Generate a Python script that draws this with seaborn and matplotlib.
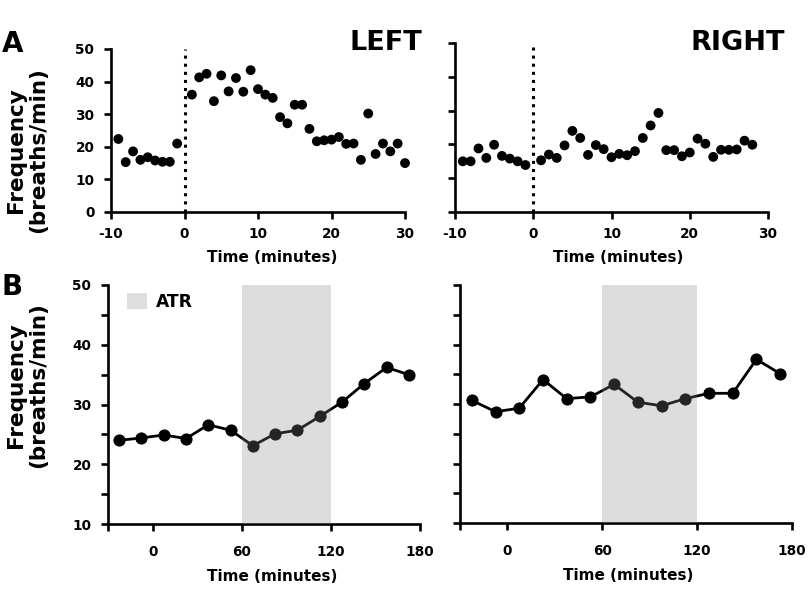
import numpy as np
import pandas as pd
import matplotlib.pyplot as plt
import seaborn as sns
from matplotlib.patches import Patch
from matplotlib.ticker import MultipleLocator

sns.set_style('ticks', {'axes.edgecolor': 'black', 'text.color': 'black',
                        'axes.labelcolor': 'black', 'xtick.color': 'black',
                        'ytick.color': 'black'})
plt.rcParams['font.family'] = ['DejaVu Sans']
plt.rcParams['font.weight'] = 'bold'
plt.rcParams['axes.unicode_minus'] = False

# Panel A - minute by minute frequency around the lesion (time 0)
a_time_left = [-9, -8, -7, -6, -5, -4, -3, -2, -1,
               1, 2, 3, 4, 5, 6, 7, 8, 9, 10, 11, 12, 13, 14, 15,
               16, 17, 18, 19, 20, 21, 22, 23, 24, 25, 26, 27, 28, 29, 30]
a_freq_left = [22.4, 15.3, 18.6, 16.0, 16.8, 15.8, 15.4, 15.4, 21.0,
               36.0, 41.3, 42.4, 34.0, 41.9, 37.0, 41.1, 36.9, 43.5, 37.7,
               36.0, 35.0, 29.1, 27.2, 32.9, 32.9, 25.5, 21.7, 22.0, 22.2,
               23.0, 20.9, 21.0, 16.0, 30.2, 17.8, 21.0, 18.6, 21.0, 15.0]
a_time_right = [-9, -8, -7, -6, -5, -4, -3, -2, -1,
                1, 2, 3, 4, 5, 6, 7, 8, 9, 10, 11, 12, 13, 14, 15,
                16, 17, 18, 19, 20, 21, 22, 23, 24, 25, 26, 27, 28]
a_freq_right = [15.0, 15.0, 18.8, 16.0, 19.9, 16.6, 15.8, 15.0, 13.9,
                15.3, 17.0, 16.0, 19.7, 24.0, 21.9, 16.9, 19.8, 18.6, 16.2,
                17.2, 16.8, 18.0, 21.9, 25.6, 29.3, 18.3, 18.3, 16.5, 17.6,
                21.7, 20.2, 16.3, 18.4, 18.4, 18.5, 21.1, 19.9]

# Panel B - 15 min averages, ATR window 60-120 min
b_time = [-22.5, -7.5, 7.5, 22.5, 37.5, 52.5, 67.5, 82.5, 97.5, 112.5,
          127.5, 142.5, 157.5, 172.5]
b_freq_left = [24.0, 24.4, 24.9, 24.3, 26.6, 25.7, 23.1, 25.1, 25.7, 28.0,
               30.4, 33.5, 36.2, 35.0]
b_freq_right = [30.6, 28.7, 29.3, 34.1, 30.9, 31.2, 33.3, 30.3, 29.7, 30.9,
                31.8, 31.8, 37.5, 35.1]
atr_window = (60, 120)

a_ticks = [-10, 0, 10, 20, 30]
b_ticks = [-30, 0, 60, 120, 180]
b_ticklabels = ['', '0', '60', '120', '180']

fig = plt.figure(figsize=(8.11, 6.08), dpi=100)
W, H = 811, 608


def px_axes(x0, x1, ytop, ybot):
    return fig.add_axes([x0 / W, 1 - ybot / H, (x1 - x0) / W, (ybot - ytop) / H])


ax_al = px_axes(111, 405, 49, 212)
ax_ar = px_axes(455, 768, 43, 212)
ax_bl = px_axes(108, 420, 285, 524)
ax_br = px_axes(460, 792, 285, 523)


def style(ax, xpad):
    for s in ['left', 'bottom']:
        ax.spines[s].set_linewidth(1.9)
        ax.spines[s].set_color('black')
    sns.despine(ax=ax)
    ax.tick_params(which='both', direction='out', length=5, width=1.9,
                   labelsize=9.8, colors='black')
    ax.tick_params(axis='y', which='both', pad=7)
    ax.tick_params(axis='x', pad=xpad)
    for lab in ax.get_xticklabels() + ax.get_yticklabels():
        lab.set_fontweight('bold')


# top row
for ax, t, f in [(ax_al, a_time_left, a_freq_left), (ax_ar, a_time_right, a_freq_right)]:
    df = pd.DataFrame({'time': t, 'freq': f})
    sns.scatterplot(data=df, x='time', y='freq', ax=ax, color='black',
                    s=50, edgecolor='none', zorder=3, clip_on=False)
    ax.axvline(0, color='black', ls=':', lw=2.2, zorder=2)
    ax.set_xlim(-10, 30)
    ax.set_ylim(0, 50)
    ax.set_xticks(a_ticks)
    ax.set_yticks([0, 10, 20, 30, 40, 50])
    ax.set_ylabel('')
    ax.set_xlabel('Time (minutes)', fontsize=11, fontweight='bold',
                  labelpad=6, color='black')
    style(ax, 6)
ax_ar.set_yticklabels([])
ax_al.xaxis.label.set_x(0.548)
ax_ar.xaxis.label.set_x(0.52)

# bottom row
for ax, f in [(ax_bl, b_freq_left), (ax_br, b_freq_right)]:
    df = pd.DataFrame({'time': b_time, 'freq': f})
    sns.lineplot(data=df, x='time', y='freq', ax=ax, color='black', lw=2,
                 marker='o', markersize=8, markeredgecolor='black', zorder=2)
    ax.axvspan(*atr_window, color='#888888', alpha=0.28, lw=0, zorder=3)
    ax.set_xlim(-30, 180)
    ax.set_ylim(10, 50)
    ax.set_xticks(b_ticks)
    ax.set_xticklabels(b_ticklabels)
    ax.set_yticks([10, 20, 30, 40, 50])
    ax.yaxis.set_minor_locator(MultipleLocator(5))
    ax.set_ylabel('')
    ax.set_xlabel('Time (minutes)', fontsize=11, fontweight='bold',
                  labelpad=7, color='black')
    style(ax, 10)
ax_br.set_yticklabels([])
ax_bl.xaxis.label.set_x(0.526)
ax_br.xaxis.label.set_x(0.506)

ax_bl.legend(handles=[Patch(facecolor='#dedede', edgecolor='none', label='ATR')],
             loc='upper left', bbox_to_anchor=(0.038, 0.996), frameon=False,
             borderaxespad=0, handlelength=1.2, handleheight=1.1, handletextpad=0.5,
             labelcolor='black',
             prop={'family': 'DejaVu Sans', 'weight': 'bold', 'size': 12.3})

# panel letters, side titles and y labels
fig.text(2 / W, 1 - 52 / H, 'A', fontsize=20, fontweight='bold', va='baseline', color='black')
fig.text(2 / W, 1 - 295 / H, 'B', fontsize=20, fontweight='bold', va='baseline', color='black')
fig.text(422 / W, 1 - 50 / H, 'LEFT', fontsize=19.5, fontweight='bold',
         ha='right', va='baseline', color='black')
fig.text(785 / W, 1 - 50 / H, 'RIGHT', fontsize=19.5, fontweight='bold',
         ha='right', va='baseline', color='black')
for yc in [150, 385]:
    fig.text(27 / W, 1 - yc / H, 'Frequency\n(breaths/min)', fontsize=15.5,
             fontweight='bold', rotation=90, ha='center', va='center',
             multialignment='center', linespacing=1.15, color='black')

plt.savefig('out.png', dpi=100)
